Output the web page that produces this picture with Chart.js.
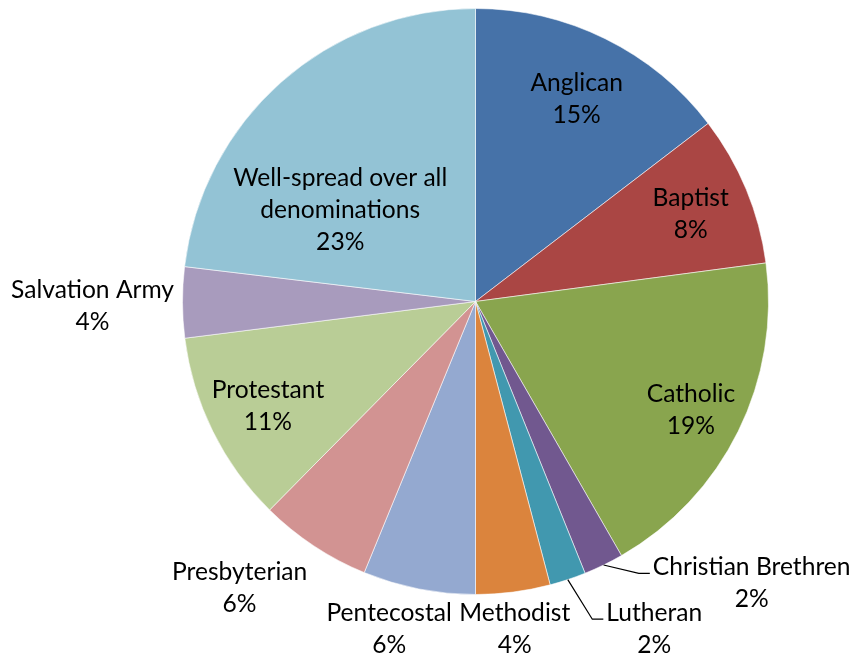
<!DOCTYPE html>
<html>
<head>
<meta charset="utf-8">
<script src="https://cdn.jsdelivr.net/npm/chart.js@4.4.1/dist/chart.umd.min.js"></script>
<style>
  html, body { margin: 0; padding: 0; background: #ffffff; }
  #wrap { width: 856px; height: 662px; position: relative; }
</style>
</head>
<body>
<div id="wrap"><canvas id="c" width="856" height="662"></canvas></div>
<script>
// ---- data ----
const categories = [
  'Anglican', 'Baptist', 'Catholic', 'Christian Brethren', 'Lutheran',
  'Methodist', 'Pentecostal', 'Presbyterian', 'Protestant', 'Salvation Army',
  ['Well-spread over all', 'denominations']
];
const shares = [14.6, 8.3, 18.8, 2.2, 2.0, 4.1, 6.2, 6.2, 10.6, 3.9, 23.1];
const sliceColors = [
  '#4672A8', '#AA4644', '#89A54E', '#71588F', '#4198AF',
  '#DB843D', '#94A9D0', '#D29392', '#B9CD96', '#A89BBD', '#93C3D5'
];

// ---- label placement (polar, relative to slice geometry) ----
// rf: distance as a fraction of the radius, shift: degrees added to slice mid-angle
const labelPlacement = [
  { rf: 0.78, shift: 0 },
  { rf: 0.795, shift: 0 },
  { rf: 0.82, shift: 0 },
  { rf: 1.342, shift: -18.7, leader: true },
  { rf: 1.268, shift: -10.4, leader: true },
  { rf: 1.119, shift: 0.5 },
  { rf: 1.149, shift: 3.7 },
  { rf: 1.261, shift: 6.2 },
  { rf: 0.79, shift: 0 },
  { rf: 1.307, shift: -0.2 },
  { rf: 0.561, shift: -13.8 }
];

const FONT = '24.6px Lato, "Open Sans", sans-serif';
const LINE_H = 32;
const TEXT_DY = 2;

const labelPlugin = {
  id: 'pieLabels',
  afterDatasetsDraw(chart) {
    const ctx = chart.ctx;
    const meta = chart.getDatasetMeta(0);
    ctx.save();
    ctx.font = FONT;
    ctx.fillStyle = '#000000';
    ctx.textAlign = 'center';
    ctx.textBaseline = 'middle';
    meta.data.forEach((arc, i) => {
      const p = arc.getProps(['x', 'y', 'startAngle', 'endAngle', 'outerRadius'], true);
      const mid = (p.startAngle + p.endAngle) / 2;
      const pl = labelPlacement[i];
      const ang = mid + pl.shift * Math.PI / 180;
      const cx = p.x + pl.rf * p.outerRadius * Math.cos(ang);
      const cy = p.y + pl.rf * p.outerRadius * Math.sin(ang);
      const name = categories[i];
      const lines = (Array.isArray(name) ? name.slice() : [name]);
      lines.push(Math.round(shares[i]) + '%');
      const n = lines.length;
      let maxW = 0;
      lines.forEach((t, k) => {
        maxW = Math.max(maxW, ctx.measureText(t).width);
        ctx.fillText(t, cx, cy + TEXT_DY + (k - (n - 1) / 2) * LINE_H);
      });
      if (pl.leader) {
        const sx = p.x + p.outerRadius * Math.cos(mid);
        const sy = p.y + p.outerRadius * Math.sin(mid);
        const left = cx - maxW / 2;
        const hy = cy - 8;
        ctx.beginPath();
        ctx.strokeStyle = '#000000';
        ctx.lineWidth = 1.2;
        ctx.moveTo(sx, sy);
        ctx.lineTo(left - 14, hy);
        ctx.lineTo(left - 3, hy);
        ctx.stroke();
      }
    });
    ctx.restore();
  }
};

new Chart(document.getElementById('c'), {
  type: 'pie',
  data: {
    labels: categories,
    datasets: [{
      data: shares,
      backgroundColor: sliceColors,
      borderColor: 'rgba(255,255,255,0.55)',
      borderWidth: 1
    }]
  },
  options: {
    responsive: false,
    animation: false,
    layout: { padding: { left: 182, top: 8, right: 87, bottom: 67 } },
    plugins: {
      legend: { display: false },
      tooltip: { enabled: false }
    }
  },
  plugins: [labelPlugin]
});
</script>
</body>
</html>
